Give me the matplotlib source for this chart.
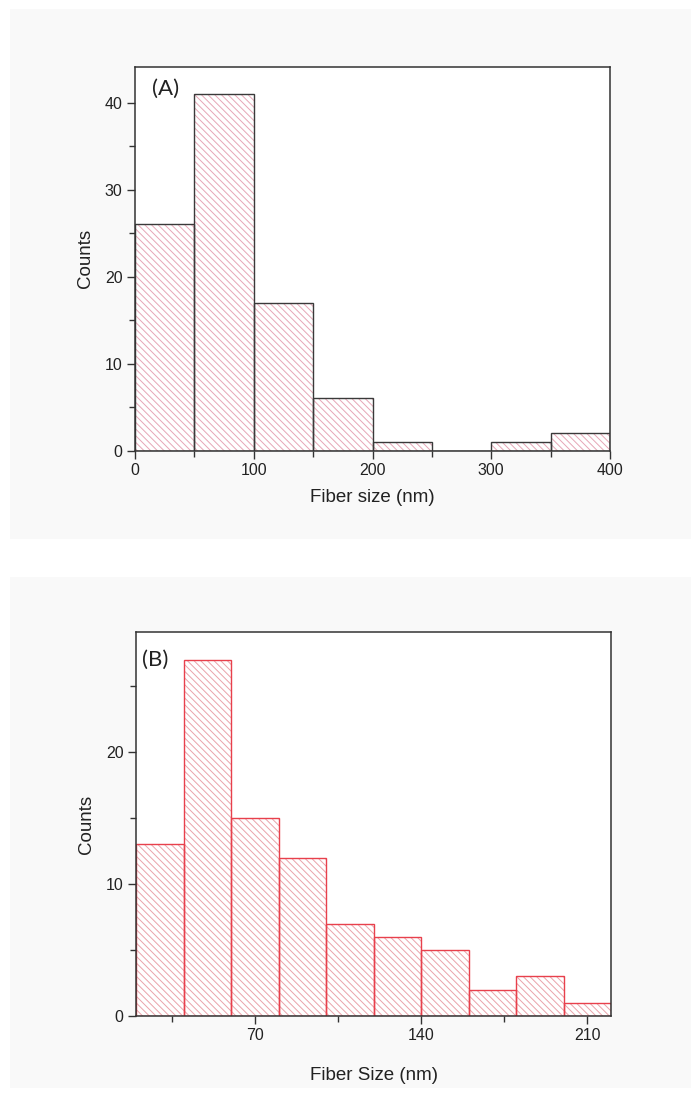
import numpy as np
import matplotlib
matplotlib.use("Agg")
import matplotlib.pyplot as plt
from matplotlib.patches import Rectangle
from matplotlib.ticker import MultipleLocator

# histogram data, panel A (bin width 50 nm)
edges_a = [0, 50, 100, 150, 200, 250, 300, 350, 400]
counts_a = [26, 41, 17, 6, 1, 0, 1, 2]

# histogram data, panel B (bin width 20 nm)
edges_b = [20, 40, 60, 80, 100, 120, 140, 160, 180, 200, 220]
counts_b = [13, 27, 15, 12, 7, 6, 5, 2, 3, 1]

plt.rcParams['font.family'] = ['Liberation Sans', 'DejaVu Sans']
plt.rcParams['hatch.linewidth'] = 0.7

W, H = 691, 1095
fig = plt.figure(figsize=(W / 100, H / 100), dpi=100)
fig.patch.set_facecolor('white')

# light grey panels behind each plot
for (y0, y1) in [(9, 539), (577, 1088)]:
    fig.patches.append(Rectangle((10 / W, 1 - y1 / H), (W - 10) / W, (y1 - y0) / H,
                                 transform=fig.transFigure, facecolor='#f9f9f9',
                                 edgecolor='none', zorder=-5))


def draw_hist(ax, edges, counts, edge_col, hatch_col):
    edges = np.asarray(edges)
    widths = np.diff(edges)
    # hatch layer first, outline drawn on top
    ax.bar(edges[:-1], counts, width=widths, align='edge', color='white',
           edgecolor=hatch_col, hatch='\\\\\\\\\\', linewidth=0, zorder=2)
    ax.bar(edges[:-1], counts, width=widths, align='edge', fill=False,
           edgecolor=edge_col, linewidth=1.0, zorder=3)


def style_axes(ax):
    ax.set_facecolor('white')
    for s in ax.spines.values():
        s.set_color('#333333')
        s.set_linewidth(1.1)
        s.set_zorder(4)
    ax.tick_params(which='major', direction='out', length=5.5, width=1.0,
                   color='#333333', labelsize=11.5, labelcolor='#222222')
    ax.tick_params(which='minor', direction='out', length=4, width=1.0,
                   color='#333333')
    ax.tick_params(top=False, right=False, which='both')


# panel A
ax1 = fig.add_axes([135 / W, 1 - 450.7 / H, 475 / W, 383.7 / H])
draw_hist(ax1, edges_a, counts_a, '#3a3a3a', '#e6a6b6')
ax1.set_xlim(0, 400)
ax1.set_ylim(0, 44.1)
ax1.xaxis.set_major_locator(MultipleLocator(100))
ax1.xaxis.set_minor_locator(MultipleLocator(50))
ax1.yaxis.set_major_locator(MultipleLocator(10))
ax1.yaxis.set_minor_locator(MultipleLocator(5))
style_axes(ax1)
ax1.set_xlabel('Fiber size (nm)', fontsize=13.5, color='#222222')
ax1.set_ylabel('Counts', fontsize=13.5, color='#222222')
ax1.xaxis.set_label_coords(0.5, -0.1)
ax1.yaxis.set_label_coords(-0.086, 0.5)
ax1.text(0.036, 0.943, '(A)', transform=ax1.transAxes, fontsize=16,
         family=['Lato', 'DejaVu Sans'], va='center', ha='left', color='#222222')

# panel B
ax2 = fig.add_axes([136 / W, 1 - 1016 / H, 475 / W, 384 / H])
draw_hist(ax2, edges_b, counts_b, '#e8404c', '#eaa3aa')
ax2.set_xlim(20, 220)
ax2.set_ylim(0, 29.1)
ax2.xaxis.set_major_locator(MultipleLocator(70))
ax2.xaxis.set_minor_locator(MultipleLocator(35))
ax2.yaxis.set_major_locator(MultipleLocator(10))
ax2.yaxis.set_minor_locator(MultipleLocator(5))
style_axes(ax2)
ax2.set_xlabel('Fiber Size (nm)', fontsize=13.5, color='#222222')
ax2.set_ylabel('Counts', fontsize=13.5, color='#222222')
ax2.xaxis.set_label_coords(0.5, -0.133)
ax2.yaxis.set_label_coords(-0.086, 0.5)
ax2.text(0.013, 0.927, '(B)', transform=ax2.transAxes, fontsize=16,
         family=['Lato', 'DejaVu Sans'], va='center', ha='left', color='#222222')

fig.savefig('out.png', dpi=100, facecolor=fig.get_facecolor())
